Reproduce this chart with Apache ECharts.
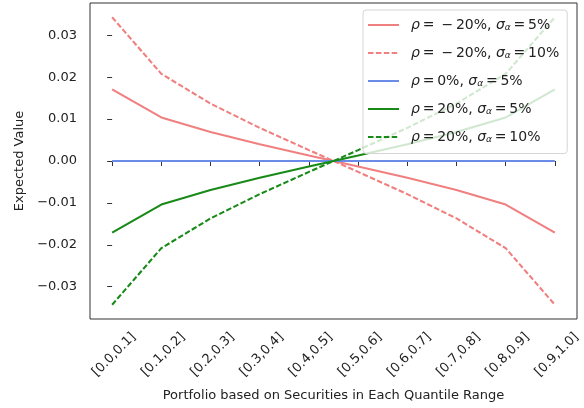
<!DOCTYPE html>
<html><head><meta charset="utf-8">
<script src="https://cdn.jsdelivr.net/npm/echarts@6/dist/echarts.min.js"></script>
<style>html,body{margin:0;padding:0;background:#fff}#c{width:584px;height:408px}</style>
</head><body><div id="c"></div>
<script>
const categories = ['[0.0,0.1]','[0.1,0.2]','[0.2,0.3]','[0.3,0.4]','[0.4,0.5]','[0.5,0.6]','[0.6,0.7]','[0.7,0.8]','[0.8,0.9]','[0.9,1.0]'];
const negCorr5  = [0.0171, 0.0104, 0.0069, 0.0040, 0.0013, -0.0013, -0.0040, -0.0069, -0.0104, -0.0171];
const negCorr10 = [0.0343, 0.0208, 0.0137, 0.0079, 0.0026, -0.0026, -0.0079, -0.0137, -0.0208, -0.0343];
const zeroCorr5 = [0, 0, 0, 0, 0, 0, 0, 0, 0, 0];
const posCorr5  = [-0.0171, -0.0104, -0.0069, -0.0040, -0.0013, 0.0013, 0.0040, 0.0069, 0.0104, 0.0171];
const posCorr10 = [-0.0343, -0.0208, -0.0137, -0.0079, -0.0026, 0.0026, 0.0079, 0.0137, 0.0208, 0.0343];
const yTicks = [-0.03, -0.02, -0.01, 0, 0.01, 0.02, 0.03];
const legendNames = ['neg5', 'neg10', 'zero5', 'pos5', 'pos10'];
const legendLabels = [
  '{i|ρ}\u2009=\u2002−\u200920%, {i|σ}{s|α}\u2009=\u20095%',
  '{i|ρ}\u2009=\u2002−\u200920%, {i|σ}{s|α}\u2009=\u200910%',
  '{i|ρ}\u2009=\u20090%, {i|σ}{s|α}\u2009=\u20095%',
  '{i|ρ}\u2009=\u200920%, {i|σ}{s|α}\u2009=\u20095%',
  '{i|ρ}\u2009=\u200920%, {i|σ}{s|α}\u2009=\u200910%'
];

const FONT = 'DejaVu Sans';
const RED = '#f08080', BLUE = '#6a8ce8', GREEN = '#188a18';
const LABEL_SHIFT = 0.44;
const idx = categories.map((_, i) => i);
const pairs = arr => arr.map((v, i) => [i, v]);
const dash = [5.5, 2.4];

function mk(name, data, color, dashed) {
  return {
    name, type: 'line', data: pairs(data), symbol: 'none', showSymbol: false,
    lineStyle: { color, width: 2.1, type: dashed ? dash : 'solid' },
    itemStyle: { color }, animation: false, z: 3
  };
}

const chart = echarts.init(document.getElementById('c'), null, { renderer: 'canvas' });
chart.setOption({
  animation: false,
  grid: { left: 90, right: 7, top: 3, bottom: 89, show: true, borderColor: '#333', borderWidth: 1, backgroundColor: 'transparent' },
  xAxis: {
    type: 'value', min: -0.45, max: 9.45,
    name: 'Portfolio based on Securities in Each Quantile Range',
    nameLocation: 'middle', nameGap: 70,
    nameTextStyle: { fontFamily: FONT, fontSize: 13, color: '#222' },
    axisLine: { show: false },
    splitLine: { show: false },
    axisTick: { show: true, customValues: idx, length: 5, lineStyle: { color: '#333' } },
    axisLabel: {
      customValues: idx.map(i => i + LABEL_SHIFT), rotate: 45, margin: 16,
      fontFamily: FONT, fontSize: 13, color: '#222',
      formatter: v => categories[Math.round(v - LABEL_SHIFT)]
    }
  },
  yAxis: {
    type: 'value', min: -0.0377, max: 0.0377,
    name: 'Expected Value', nameLocation: 'middle', nameGap: 63, nameRotate: 90,
    nameTextStyle: { fontFamily: FONT, fontSize: 13, color: '#222' },
    axisLine: { show: false },
    splitLine: { show: false },
    axisTick: { show: true, customValues: yTicks, length: 5, lineStyle: { color: '#333' } },
    axisLabel: {
      customValues: yTicks, margin: 13, fontFamily: FONT, fontSize: 13, color: '#222',
      formatter: v => v.toFixed(2).replace('-', '−')
    }
  },
  legend: {
    data: legendNames, orient: 'vertical', left: 363, top: 10,
    itemWidth: 31, itemHeight: 14, itemGap: 13.5,
    padding: [8, 8, 9, 4],
    itemStyle: { opacity: 0 },
    backgroundColor: 'rgba(255,255,255,0.8)', borderColor: '#d4d4d4', borderWidth: 1, borderRadius: 3,
    textStyle: {
      fontFamily: FONT, fontSize: 14, color: '#222', padding: [0, 0, 0, 7],
      rich: {
        i: { fontFamily: FONT, fontSize: 14, fontStyle: 'italic', color: '#222' },
        s: { fontFamily: FONT, fontSize: 9, fontStyle: 'italic', color: '#222', padding: [6, 0, 0, 0] }
      }
    },
    formatter: n => legendLabels[legendNames.indexOf(n)]
  },
  series: [
    mk('neg5', negCorr5, RED, false),
    mk('neg10', negCorr10, RED, true),
    mk('zero5', zeroCorr5, BLUE, false),
    mk('pos5', posCorr5, GREEN, false),
    mk('pos10', posCorr10, GREEN, true)
  ]
});
</script></body></html>
